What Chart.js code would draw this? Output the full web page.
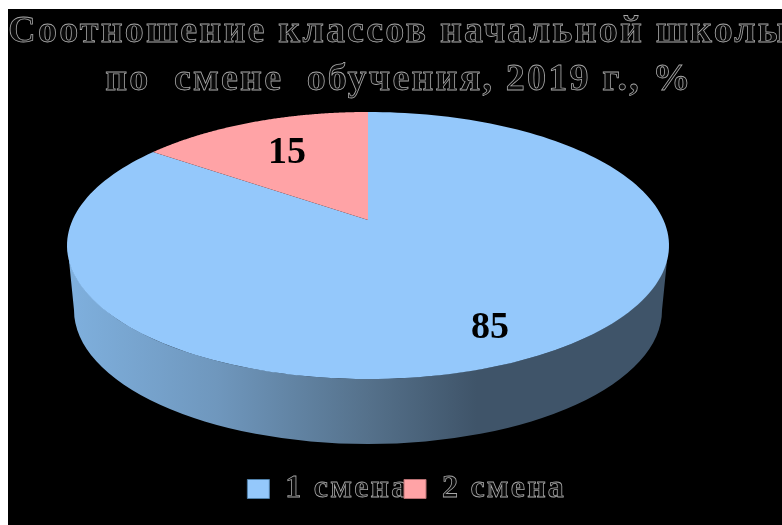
<!DOCTYPE html>
<html><head><meta charset="utf-8">
<style>html,body{margin:0;padding:0;background:#fff}canvas{display:block}</style>
<script src="https://cdn.jsdelivr.net/npm/chart.js@4"></script>
</head><body><canvas id="c" width="782" height="525"></canvas>
<script>
const titleLines = ['Соотношение классов начальной школы', 'по  смене  обучения, 2019 г., %'];
const categories = ['1 смена', '2 смена'];
const shares = [85, 15];
const sliceColors = ['#94C8FB', '#FFA3A6'];
const sliceEdges = ['#4F7FA8', '#B87073'];

const TOP = {cx: 368, cy: 245.5, rx: 301, ry: 133.5, apexY: 220};
const BOTTOM = {cx: 368, cy: 310, rx: 294, ry: 134};
const OUTLINE_FILL = '#0a0a0a';

// Perspective projection of the library's unit circle onto the tilted top face
const v0 = (TOP.apexY - TOP.cy) / TOP.ry;
function project(u, v) {
  const d = 1 + v0 * v;
  return [TOP.cx + TOP.rx * u * Math.sqrt(1 - v0 * v0) / d, TOP.cy + TOP.ry * (v + v0) / d];
}
Chart.ArcElement.prototype.draw = function (ctx) {
  const {startAngle, endAngle} = this.getProps(['startAngle', 'endAngle']);
  const steps = 180;
  ctx.save();
  ctx.beginPath();
  ctx.moveTo(...project(0, 0));
  for (let i = 0; i <= steps; i++) {
    const a = startAngle + (endAngle - startAngle) * i / steps;
    ctx.lineTo(...project(Math.cos(a), Math.sin(a)));
  }
  ctx.closePath();
  ctx.fillStyle = this.options.backgroundColor;
  ctx.fill();
  ctx.restore();
};

const scenePlugin = {
  id: 'scene',
  beforeDraw(chart) {
    const ctx = chart.ctx;
    ctx.save();
    ctx.fillStyle = '#000';
    ctx.fillRect(8, 9, chart.width - 8, chart.height - 9);
    ctx.restore();
    if (!ctx.__patched) {
      ctx.__patched = true;
      const orig = ctx.fillText.bind(ctx);
      ctx.__origFill = orig;
      ctx.fillText = function (text, x, y) {
        if (ctx.fillStyle === OUTLINE_FILL) {
          ctx.save();
          const big = parseInt(ctx.font, 10) > 32;
          ctx.letterSpacing = big ? '3.05px' : '2.2px';
          orig(text, x, y);
          ctx.strokeStyle = big ? '#c4c4c4' : '#a8a8a8';
          ctx.lineWidth = 0.8;
          ctx.strokeText(text, x, y);
          ctx.restore();
        } else {
          orig(text, x, y);
        }
      };
    }
  },
  beforeDatasetsDraw(chart) {
    const ctx = chart.ctx;
    const g = ctx.createLinearGradient(TOP.cx - TOP.rx, 0, TOP.cx + TOP.rx, 0);
    g.addColorStop(0, '#7FB0DE');
    g.addColorStop(0.25, '#6F97BD');
    g.addColorStop(0.5, '#55718B');
    g.addColorStop(0.68, '#3F5469');
    g.addColorStop(1, '#3F5469');
    ctx.save();
    ctx.beginPath();
    ctx.ellipse(TOP.cx, TOP.cy, TOP.rx - 0.5, TOP.ry, 0, Math.PI, 0, true);
    ctx.lineTo(BOTTOM.cx + BOTTOM.rx, BOTTOM.cy);
    ctx.ellipse(BOTTOM.cx, BOTTOM.cy, BOTTOM.rx, BOTTOM.ry, 0, 0, Math.PI, false);
    ctx.closePath();
    ctx.fillStyle = g;
    ctx.fill();
    ctx.restore();
  },
  afterDatasetsDraw(chart) {
    const ctx = chart.ctx;
    const spots = [[490, 328], [287, 153]];
    ctx.save();
    ctx.font = 'bold 38px "Liberation Serif"';
    ctx.fillStyle = '#000000';
    ctx.textAlign = 'center';
    ctx.textBaseline = 'middle';
    shares.forEach((s, i) => ctx.fillText(String(s), spots[i][0], spots[i][1]));
    ctx.restore();
  }
};

new Chart(document.getElementById('c'), {
  type: 'pie',
  data: {
    labels: categories,
    datasets: [{data: shares, backgroundColor: sliceColors, borderColor: sliceEdges, borderWidth: 1}]
  },
  options: {
    responsive: false,
    animation: false,
    layout: {padding: {left: 16, right: 0, top: 8, bottom: 10}},
    plugins: {
      tooltip: {enabled: false},
      title: {
        display: true,
        text: titleLines,
        color: OUTLINE_FILL,
        font: {family: '"Liberation Serif"', weight: 'bold', size: 38, lineHeight: 1.263},
        padding: {top: 0, bottom: 20}
      },
      legend: {
        display: true,
        position: 'bottom',
        labels: {
          color: OUTLINE_FILL,
          boxWidth: 22,
          boxHeight: 19,
          padding: 10,
          font: {family: '"Liberation Serif"', weight: 'bold', size: 32}
        }
      }
    }
  },
  plugins: [scenePlugin]
});
</script></body></html>
